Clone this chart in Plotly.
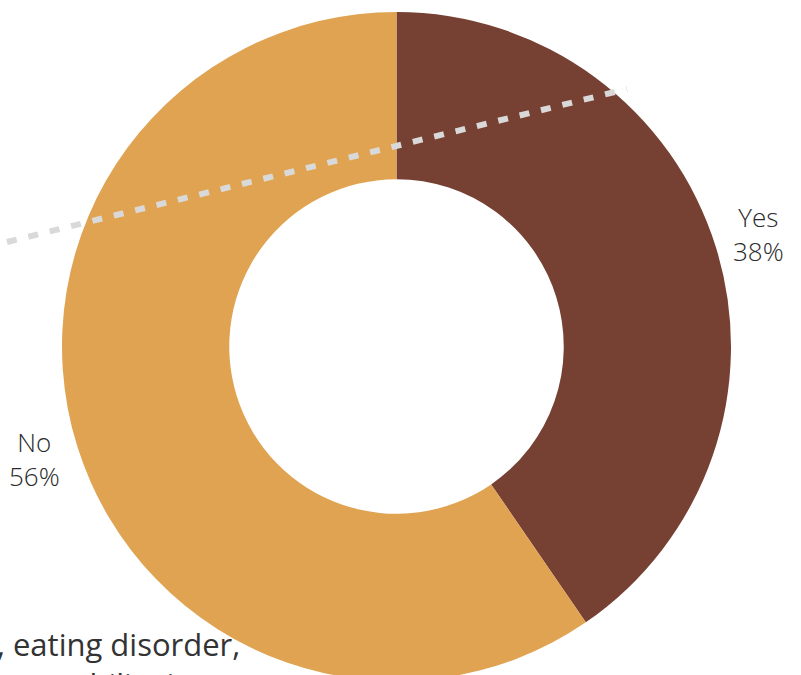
import math
import plotly.graph_objects as go

labels = ["Yes", "No"]
values = [38, 56]
colors = ["#764033", "#e0a352"]

W, H = 801, 681
ML, MR, MT, MB = 0, 8, 12, 0
PW, PH = W - ML - MR, H - MT - MB

def px(x):
    return (x - ML) / PW

def py(y):
    return 1 - (y - MT) / PH

fig = go.Figure(go.Pie(
    labels=labels,
    values=values,
    hole=0.5,
    sort=False,
    direction="clockwise",
    rotation=0,
    marker=dict(colors=colors, line=dict(width=0)),
    textinfo="none",
    textposition="none",
    showlegend=False,
    hoverinfo="label+value",
))

# outside labels placed at each slice's mid-angle (derived from the values)
cx, cy = ML + PW / 2, MT + PH / 2
R = min(PW, PH) / 2
total = sum(values)
start = 0.0
for lab, val in zip(labels, values):
    mid = (start + val / 2) / total * 2 * math.pi
    start += val
    lx = cx + 1.132 * R * math.sin(mid)
    ly = cy - 1.132 * R * math.cos(mid)
    fig.add_annotation(xref="paper", yref="paper", x=px(lx), y=py(ly),
                       xanchor="center", yanchor="middle", showarrow=False,
                       text=f"{lab}<br>{val}%",
                       font=dict(family="Open Sans", size=26, color="#2b2b2b", weight=300))

fig.add_shape(type="line", xref="paper", yref="paper",
              x0=px(7), y0=py(242), x1=px(627), y1=py(89),
              line=dict(color="#d9d9d9", width=6, dash="10px,12px"))

fig.add_annotation(xref="paper", yref="paper", x=px(242), y=py(621),
                   xanchor="right", yanchor="top", align="right", showarrow=False,
                   text="Mental health condition, eating disorder,<br>learning disability or mobility issue",
                   font=dict(family="Open Sans", size=31, color="#333333"))

fig.update_layout(
    width=W, height=H,
    margin=dict(l=ML, r=MR, t=MT, b=MB),
    paper_bgcolor="white", plot_bgcolor="white",
)

fig.write_html("out.html")
